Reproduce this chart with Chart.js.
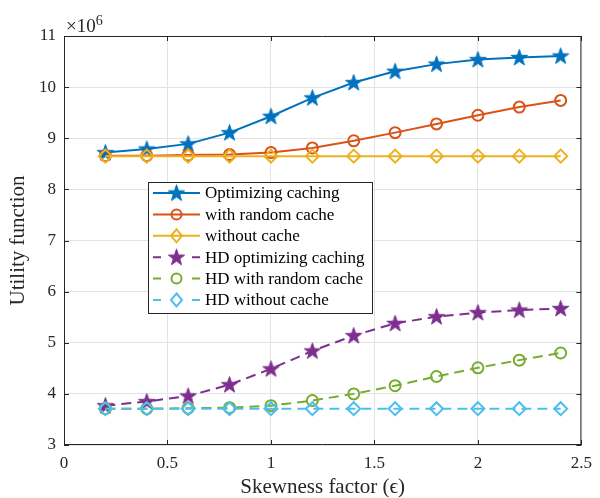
<!DOCTYPE html>
<html>
<head>
<meta charset="utf-8">
<script src="https://cdn.jsdelivr.net/npm/chart.js@4/dist/chart.umd.min.js"></script>
<style>
  body { margin: 0; background: #fff; }
  canvas { display: block; }
</style>
</head>
<body>
<canvas id="chart" width="600" height="498"></canvas>
<script>
// values are in units of 10^6
const skewness = [0.2, 0.4, 0.6, 0.8, 1.0, 1.2, 1.4, 1.6, 1.8, 2.0, 2.2, 2.4];
const optCaching = [8.72, 8.79, 8.89, 9.11, 9.43, 9.79, 10.09, 10.31, 10.45, 10.54, 10.58, 10.61];
const randomCache = [8.66, 8.66, 8.67, 8.68, 8.72, 8.81, 8.95, 9.11, 9.28, 9.45, 9.61, 9.74];
const noCache = [8.65, 8.65, 8.65, 8.65, 8.65, 8.65, 8.65, 8.65, 8.65, 8.65, 8.65, 8.65];
const hdOptCaching = [3.77, 3.85, 3.96, 4.18, 4.49, 4.84, 5.14, 5.38, 5.51, 5.59, 5.64, 5.67];
const hdRandomCache = [3.71, 3.71, 3.72, 3.73, 3.77, 3.87, 4.0, 4.16, 4.34, 4.51, 4.66, 4.80];
const hdNoCache = [3.71, 3.71, 3.71, 3.71, 3.71, 3.71, 3.71, 3.71, 3.71, 3.71, 3.71, 3.71];

const xTicks = [0, 0.5, 1, 1.5, 2, 2.5];
const yTicks = [3, 4, 5, 6, 7, 8, 9, 10, 11];

const serif = "'Liberation Serif', 'Times New Roman', 'DejaVu Serif', serif";
Chart.defaults.font.family = serif;
Chart.defaults.color = '#262626';

// filled pentagram marker like MATLAB's
function makeStar(color) {
    const c = document.createElement('canvas');
    c.width = 19; c.height = 19;
    const g = c.getContext('2d');
    const R = 8.6, r = 3.4, cx = 9.5, cy = 10;
    g.beginPath();
    for (let i = 0; i < 10; i++) {
        const rad = i % 2 ? r : R;
        const a = -Math.PI / 2 + i * Math.PI / 5;
        g.lineTo(cx + rad * Math.cos(a), cy + rad * Math.sin(a));
    }
    g.closePath();
    g.fillStyle = color;
    g.fill();
    g.strokeStyle = color;
    g.lineWidth = 1;
    g.stroke();
    return c;
}

function series(label, values, color, marker, dashed) {
    return {
        label: label,
        data: values.map((v, i) => ({ x: skewness[i], y: v })),
        borderColor: color,
        backgroundColor: 'rgba(0,0,0,0)',
        borderWidth: 2,
        borderDash: dashed ? [10, 6] : [],
        pointStyle: marker === 'star' ? makeStar(color) : marker,
        pointRadius: marker === 'circle' ? 5.5 : 6.5,
        pointBorderWidth: 2,
        pointBorderColor: color,
        pointBackgroundColor: 'rgba(0,0,0,0)',
        tension: 0,
        _marker: marker
    };
}

const datasets = [
    series('Optimizing caching', optCaching, '#0072BD', 'star', false),
    series('with random cache', randomCache, '#D95319', 'circle', false),
    series('without cache', noCache, '#EDB120', 'rectRot', false),
    series('HD optimizing caching', hdOptCaching, '#7E2F8E', 'star', true),
    series('HD with random cache', hdRandomCache, '#77AC30', 'circle', true),
    series('HD without cache', hdNoCache, '#4DBEEE', 'rectRot', true)
];
datasets.forEach((d, i) => { d.order = -i; });

function drawMarker(ctx, ds, x, y) {
    ctx.save();
    ctx.setLineDash([]);
    ctx.strokeStyle = ds.borderColor;
    ctx.lineWidth = 2;
    if (ds._marker === 'star') {
        const img = ds.pointStyle;
        ctx.drawImage(img, x - img.width / 2, y - img.height / 2);
    } else if (ds._marker === 'circle') {
        ctx.beginPath();
        ctx.arc(x, y, 5, 0, Math.PI * 2);
        ctx.stroke();
    } else {
        ctx.beginPath();
        ctx.moveTo(x, y - 6.5);
        ctx.lineTo(x + 5.5, y);
        ctx.lineTo(x, y + 6.5);
        ctx.lineTo(x - 5.5, y);
        ctx.closePath();
        ctx.stroke();
    }
    ctx.restore();
}

// MATLAB-like box, inward ticks, exponent label and legend
const matlabFrame = {
    id: 'matlabFrame',
    afterDatasetsDraw(chart) {
        const ctx = chart.ctx;
        const a = chart.chartArea;
        const xs = chart.scales.x, ys = chart.scales.y;
        ctx.save();
        ctx.strokeStyle = '#262626';
        ctx.lineWidth = 1;
        ctx.beginPath();
        ctx.rect(a.left + 0.5, a.top + 0.5, a.right - a.left - 1, a.bottom - a.top - 1);
        xTicks.forEach(v => {
            const px = Math.round(xs.getPixelForValue(v)) + 0.5;
            ctx.moveTo(px, a.bottom); ctx.lineTo(px, a.bottom - 5);
            ctx.moveTo(px, a.top); ctx.lineTo(px, a.top + 5);
        });
        yTicks.forEach(v => {
            const py = Math.round(ys.getPixelForValue(v)) + 0.5;
            ctx.moveTo(a.left, py); ctx.lineTo(a.left + 5, py);
            ctx.moveTo(a.right, py); ctx.lineTo(a.right - 5, py);
        });
        ctx.stroke();

        // exponent
        ctx.fillStyle = '#262626';
        ctx.textBaseline = 'alphabetic';
        ctx.textAlign = 'left';
        ctx.font = '19px ' + serif;
        ctx.fillText('×10', a.left + 2, a.top - 4);
        const w = ctx.measureText('×10').width;
        ctx.font = '14px ' + serif;
        ctx.fillText('6', a.left + 2 + w, a.top - 11);

        // legend
        const lx = a.left + 84, ly = a.top + 146, lw = 224, lh = 131;
        ctx.fillStyle = '#fff';
        ctx.fillRect(lx, ly, lw, lh);
        ctx.strokeStyle = '#262626';
        ctx.strokeRect(lx + 0.5, ly + 0.5, lw, lh);
        ctx.font = '17px ' + serif;
        ctx.textBaseline = 'middle';
        chart.data.datasets.forEach((ds, i) => {
            const y = ly + 11 + i * 21.4;
            ctx.save();
            ctx.strokeStyle = ds.borderColor;
            ctx.lineWidth = 2;
            if (ds.borderDash.length) {
                ctx.beginPath();
                ctx.moveTo(lx + 5, y); ctx.lineTo(lx + 13, y);
                ctx.moveTo(lx + 44, y); ctx.lineTo(lx + 52, y);
                ctx.stroke();
            } else {
                ctx.beginPath();
                ctx.moveTo(lx + 5, y); ctx.lineTo(lx + 52, y);
                ctx.stroke();
            }
            ctx.restore();
            drawMarker(ctx, ds, lx + 28.5, y);
            ctx.fillStyle = '#000';
            ctx.fillText(ds.label, lx + 57, y + 1);
        });
        ctx.restore();
    }
};

new Chart(document.getElementById('chart'), {
    type: 'line',
    data: { datasets: datasets },
    plugins: [matlabFrame],
    options: {
        responsive: false,
        animation: false,
        devicePixelRatio: 1,
        layout: { padding: { left: 0, right: 15, top: 36, bottom: 0 } },
        plugins: { legend: { display: false }, tooltip: { enabled: false } },
        scales: {
            x: {
                type: 'linear',
                min: 0,
                max: 2.5,
                afterBuildTicks: s => { s.ticks = xTicks.map(v => ({ value: v })); },
                afterFit: s => { s.height = 53; },
                grid: { color: '#e3e3e3', drawTicks: false },
                border: { display: false },
                ticks: {
                    font: { size: 17 }, padding: 8, color: '#262626', maxRotation: 0,
                    callback: v => String(v)
                },
                title: {
                    display: true,
                    text: 'Skewness factor (ϵ)',
                    font: { size: 21 },
                    color: '#262626',
                    padding: { top: 0, bottom: -2 }
                }
            },
            y: {
                min: 3,
                max: 11,
                afterBuildTicks: s => { s.ticks = yTicks.map(v => ({ value: v })); },
                afterFit: s => { s.width = 64; },
                grid: { color: '#e3e3e3', drawTicks: false },
                border: { display: false },
                ticks: { font: { size: 17 }, padding: 8, color: '#262626', callback: v => String(v) },
                title: {
                    display: true,
                    text: 'Utility function',
                    font: { size: 21 },
                    color: '#262626',
                    padding: { top: 6, bottom: 0 }
                }
            }
        }
    }
});
</script>
</body>
</html>
